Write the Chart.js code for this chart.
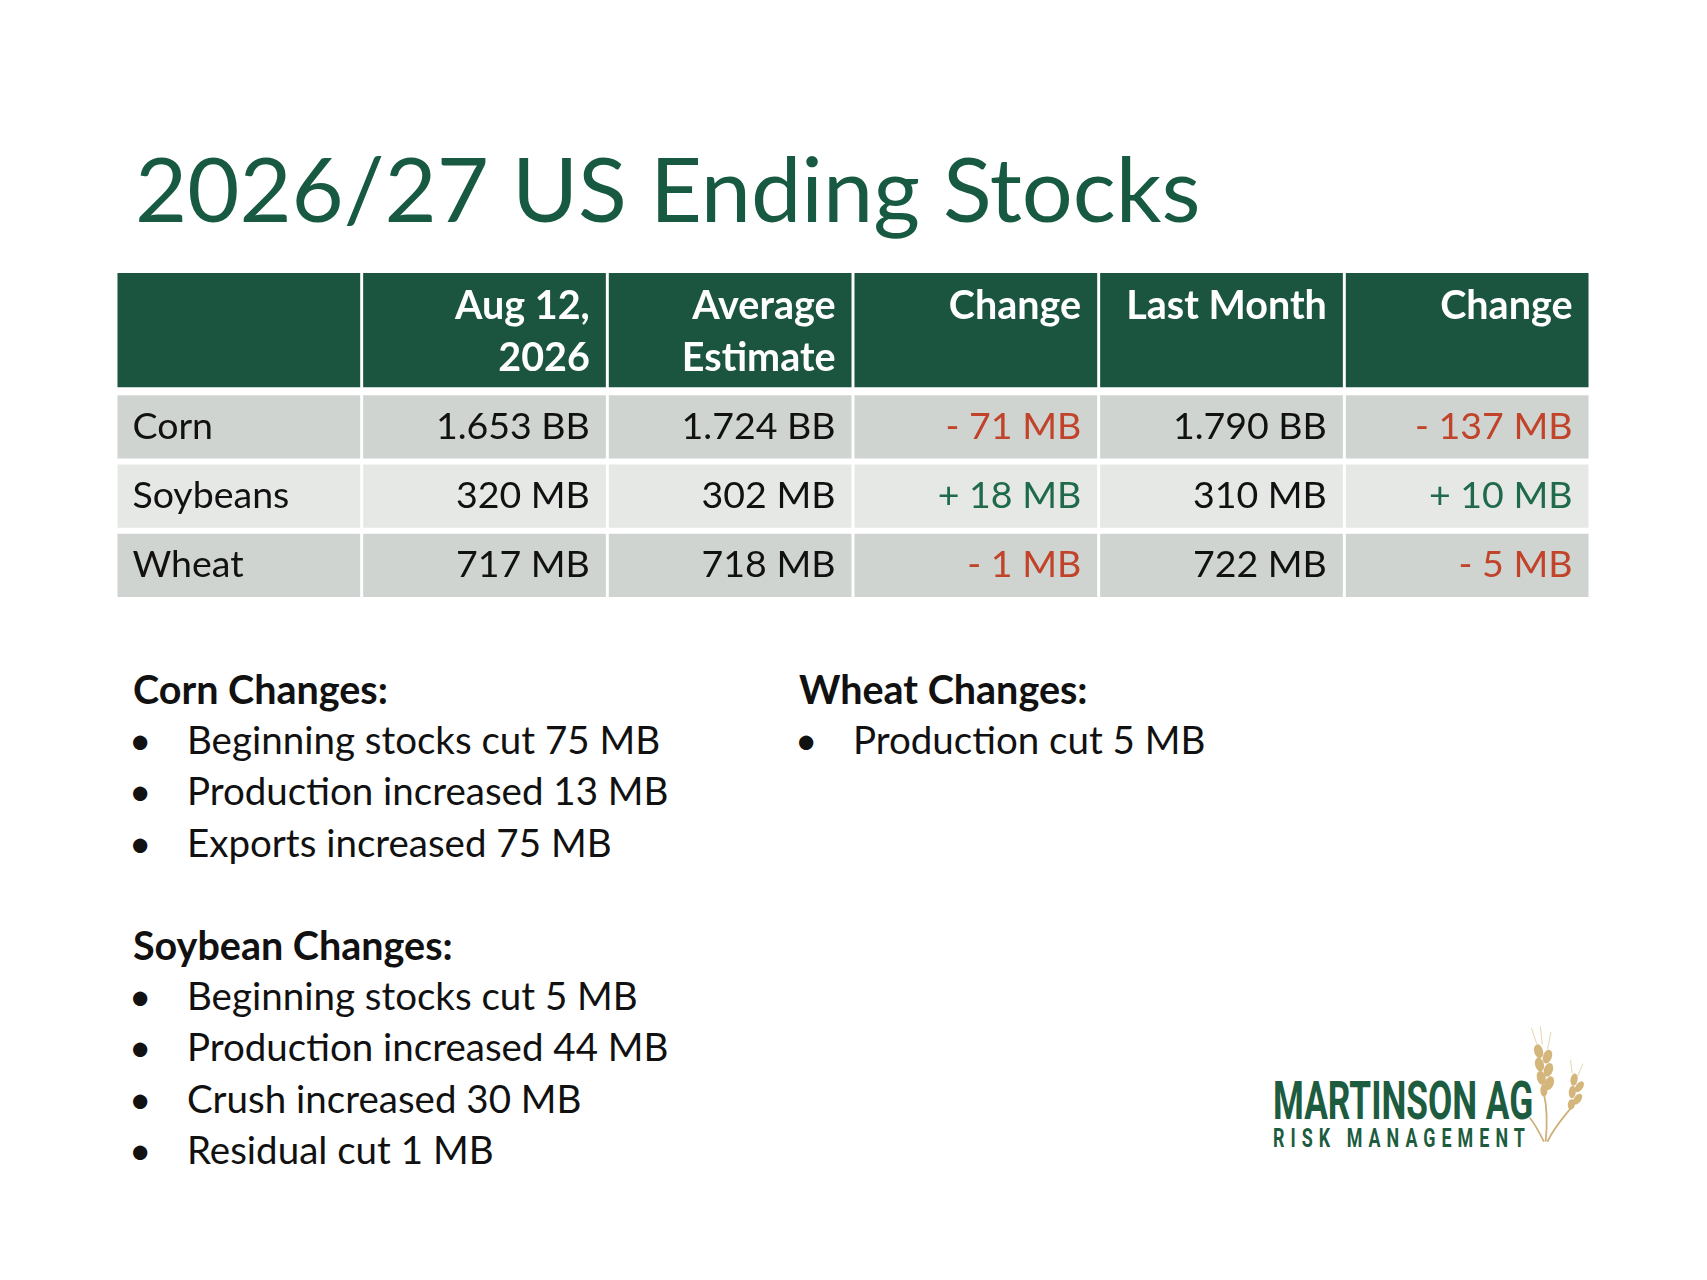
<!DOCTYPE html>
<html>
<head>
<meta charset="utf-8">
<title>2026/27 US Ending Stocks</title>
<script src="https://cdn.jsdelivr.net/npm/chart.js@4.4.1/dist/chart.umd.min.js"></script>
<style>
    html, body { margin: 0; padding: 0; background: #fff; }
    body { width: 1707px; height: 1280px; position: relative; overflow: hidden; font-family: Lato, "Open Sans", sans-serif; }
    #title { position: absolute; left: 135px; top: 142px; font-size: 90px; line-height: 90px; color: #175a41; white-space: nowrap; }
    #tableWrap { position: absolute; left: 116px; top: 273px; width: 1474px; height: 330px; }
    .notes { position: absolute; top: 663px; font-size: 38.5px; line-height: 51.2px; color: #111; white-space: nowrap; }
    .notes .h { font-weight: 700; font-size: 39.5px; }
    .notes .li { position: relative; padding-left: 54px; }
    .notes .li::before { content: "\2022"; position: absolute; left: -4px; }
    .notes .gap { height: 51.2px; }
    #cornNotes { left: 133px; }
    #wheatNotes { left: 799px; }
    #logo { position: absolute; left: 1273px; top: 1020px; width: 330px; height: 150px; }
    #logo .l1 { position: absolute; left: 0; top: 54px; font-family: Roboto, sans-serif; font-weight: 700; font-size: 53.5px; line-height: 53.5px; color: #1d5c3f; transform-origin: 0 0; white-space: nowrap; }
    #logo .l2 { position: absolute; left: 0; top: 104.5px; font-family: Roboto, sans-serif; font-weight: 700; font-size: 26.7px; line-height: 26.7px; letter-spacing: 9px; color: #1d5c3f; transform-origin: 0 0; white-space: nowrap; }
    #logo svg { position: absolute; left: 255px; top: 2px; }
</style>
</head>
<body>
<div id="title">2026/27 US Ending Stocks</div>
<div id="tableWrap"><canvas id="stocksTable" width="1474" height="330"></canvas></div>
<div id="cornNotes" class="notes"></div>
<div id="wheatNotes" class="notes"></div>
<div id="logo">
    <div class="l1">MARTINSON AG</div>
    <div class="l2">RISK MANAGEMENT</div>
    <svg width="62" height="125" viewBox="0 0 70 135">
        <g fill="none" stroke="#cfb07a" stroke-width="2">
            <path d="M20 132 C 22 110, 22 95, 18 78"/>
            <path d="M22 132 C 30 115, 40 105, 50 92"/>
            <path d="M18 132 C 12 120, 8 112, 2 105"/>
        </g>
        <g fill="#d4b57c">
            <ellipse cx="12" cy="30" rx="5" ry="8" transform="rotate(-15 12 30)"/>
            <ellipse cx="22" cy="36" rx="5" ry="8" transform="rotate(20 22 36)"/>
            <ellipse cx="13" cy="45" rx="5" ry="8" transform="rotate(-15 13 45)"/>
            <ellipse cx="23" cy="51" rx="5" ry="8" transform="rotate(20 23 51)"/>
            <ellipse cx="15" cy="60" rx="5" ry="8" transform="rotate(-15 15 60)"/>
            <ellipse cx="24" cy="66" rx="5" ry="8" transform="rotate(20 24 66)"/>
            <ellipse cx="18" cy="74" rx="4" ry="7"/>
            <ellipse cx="52" cy="62" rx="4" ry="7" transform="rotate(10 52 62)"/>
            <ellipse cx="58" cy="70" rx="4" ry="7" transform="rotate(35 58 70)"/>
            <ellipse cx="50" cy="76" rx="4" ry="7" transform="rotate(5 50 76)"/>
            <ellipse cx="56" cy="84" rx="4" ry="7" transform="rotate(35 56 84)"/>
            <ellipse cx="49" cy="90" rx="4" ry="6" transform="rotate(10 49 90)"/>
        </g>
        <g stroke="#e3cfa6" stroke-width="1">
            <path d="M10 22 L4 4 M16 22 L14 2 M22 28 L26 8"/>
            <path d="M50 55 L48 40 M56 58 L62 44"/>
        </g>
    </svg>
</div>

<script>
// table data
var columnHeaders = ['', 'Aug 12,\n2026', 'Average\nEstimate', 'Change', 'Last Month', 'Change'];
var commodities = ['Corn', 'Soybeans', 'Wheat'];
var stocksAug12 = [1653, 320, 717];          // MB
var avgEstimate = [1724, 302, 718];          // MB
var changeVsEstimate = [-71, 18, -1];        // MB
var lastMonth = [1790, 310, 722];            // MB
var changeVsLastMonth = [-137, 10, -5];      // MB

// notes under the table
var cornChanges = ['Beginning stocks cut 75 MB', 'Production increased 13 MB', 'Exports increased 75 MB'];
var soybeanChanges = ['Beginning stocks cut 5 MB', 'Production increased 44 MB', 'Crush increased 30 MB', 'Residual cut 1 MB'];
var wheatChanges = ['Production cut 5 MB'];

// layout of the grid (in body-row units)
var HEAD_UNITS = 1.768;
var HEAD_GAP = 0.116;
var ROW_GAP = 0.087;

var GREEN_DARK = '#1b5540';
var rowFills = [GREEN_DARK, '#cfd4d0', '#e6e8e6', '#cfd4d0'];
var NEG_COLOR = '#c0432a';
var POS_COLOR = '#1f6a4b';

function fmtStock(mb) {
    return mb >= 1000 ? (mb / 1000).toFixed(3) + ' BB' : mb + ' MB';
}

function fmtChange(mb) {
    return (mb < 0 ? '- ' : '+ ') + Math.abs(mb) + ' MB';
}

var columns = [
    { values: commodities, fmt: function(v) { return v; } },
    { values: stocksAug12, fmt: fmtStock },
    { values: avgEstimate, fmt: fmtStock },
    { values: changeVsEstimate, fmt: fmtChange, signed: true },
    { values: lastMonth, fmt: fmtStock },
    { values: changeVsLastMonth, fmt: fmtChange, signed: true }
];

var cellText = {
    id: 'cellText',
    afterDatasetsDraw: function(chart) {
        var ctx = chart.ctx;
        ctx.save();
        chart.data.datasets.forEach(function(ds, r) {
            var meta = chart.getDatasetMeta(r);
            meta.data.forEach(function(bar, c) {
                var p = bar.getProps(['x', 'y', 'base', 'width'], true);
                var left = p.x - p.width / 2, right = p.x + p.width / 2;
                var top = Math.min(p.y, p.base), bottom = Math.max(p.y, p.base);
                if (r === 0) {
                    ctx.font = 'bold 39.5px Lato';
                    ctx.fillStyle = '#fff';
                    ctx.textAlign = 'right';
                    ctx.textBaseline = 'alphabetic';
                    columnHeaders[c].split('\n').forEach(function(line, i) {
                        ctx.fillText(line, right - 16, top + 46 + i * 52);
                    });
                    return;
                }
                var col = columns[c];
                var v = col.values[r - 1];
                ctx.font = '37.5px Lato';
                ctx.textBaseline = 'alphabetic';
                ctx.fillStyle = col.signed ? (v < 0 ? NEG_COLOR : POS_COLOR) : '#111';
                var yBase = (top + bottom) / 2 + 12;
                if (c === 0) {
                    ctx.textAlign = 'left';
                    ctx.fillText(col.fmt(v), left + 15, yBase);
                } else {
                    ctx.textAlign = 'right';
                    ctx.fillText(col.fmt(v), right - 16, yBase);
                }
            });
        });
        ctx.restore();
    }
};

function buildTable() {
    var ctx = document.getElementById('stocksTable').getContext('2d');
    var rowKeys = ['header'].concat(commodities);
    new Chart(ctx, {
        type: 'bar',
        data: {
            labels: columnHeaders.map(function(h, i) { return 'col' + i; }),
            datasets: rowKeys.map(function(key, r) {
                return {
                    label: key,
                    data: columnHeaders.map(function() {
                        return r === 0
                            ? [0, HEAD_UNITS - HEAD_GAP]
                            : [HEAD_UNITS + r - 1, HEAD_UNITS + r - ROW_GAP];
                    }),
                    backgroundColor: rowFills[r],
                    borderWidth: 0,
                    grouped: false,
                    barPercentage: 0.988,
                    categoryPercentage: 1
                };
            })
        },
        options: {
            responsive: false,
            animation: false,
            layout: { padding: 0 },
            scales: {
                x: { display: false },
                y: { display: false, min: 0, max: HEAD_UNITS + commodities.length, reverse: true }
            },
            plugins: {
                legend: { display: false },
                tooltip: { enabled: false }
            }
        },
        plugins: [cellText]
    });
}

function renderNotes(el, blocks) {
    blocks.forEach(function(b, i) {
        if (i > 0) {
            var g = document.createElement('div');
            g.className = 'gap';
            el.appendChild(g);
        }
        var h = document.createElement('div');
        h.className = 'h';
        h.textContent = b.heading;
        el.appendChild(h);
        b.items.forEach(function(t) {
            var li = document.createElement('div');
            li.className = 'li';
            li.textContent = t;
            el.appendChild(li);
        });
    });
}

function fitLogo() {
    var l1 = document.querySelector('#logo .l1');
    var l2 = document.querySelector('#logo .l2');
    l1.style.transform = 'scaleX(' + (260 / l1.offsetWidth) + ')';
    l2.style.transform = 'scaleX(' + (252 / (l2.offsetWidth - 9)) + ')';
}

renderNotes(document.getElementById('cornNotes'), [
    { heading: 'Corn Changes:', items: cornChanges },
    { heading: 'Soybean Changes:', items: soybeanChanges }
]);
renderNotes(document.getElementById('wheatNotes'), [
    { heading: 'Wheat Changes:', items: wheatChanges }
]);
fitLogo();

Promise.all([
    document.fonts.load('bold 39.5px Lato'),
    document.fonts.load('37.5px Lato')
]).then(buildTable, buildTable);
</script>
</body>
</html>
